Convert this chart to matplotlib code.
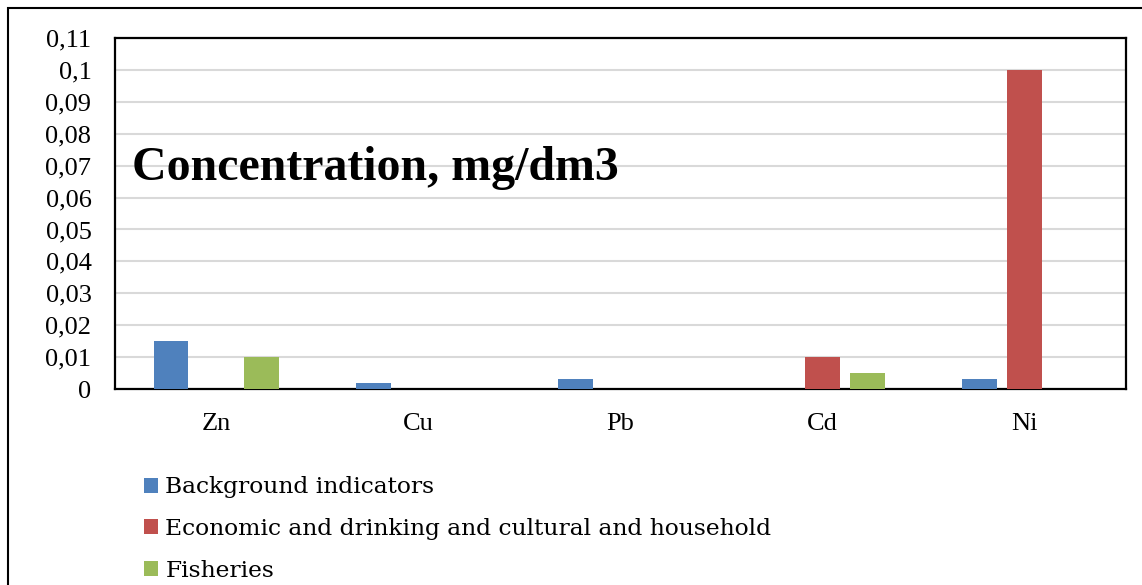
import numpy as np
import matplotlib
matplotlib.use("Agg")
import matplotlib.pyplot as plt
from matplotlib.patches import Rectangle, Patch
from matplotlib.ticker import FuncFormatter

metals = ["Zn", "Cu", "Pb", "Cd", "Ni"]
background = [0.015, 0.002, 0.003, 0.0, 0.003]
economic = [0.0, 0.0, 0.0, 0.010, 0.100]
fisheries = [0.010, 0.0, 0.0, 0.005, 0.0]
series_names = ["Background indicators",
                "Economic and drinking and cultural and household",
                "Fisheries"]

BLUE = "#4F81BD"; RED = "#C0504D"; GREEN = "#9BBB59"

plt.rcParams.update({"font.family": "Liberation Serif", "font.size": 19})

fig = plt.figure(figsize=(11.42, 5.85), dpi=100)
ax = fig.add_axes([115 / 1142, 196 / 585, 1011 / 1142, 351 / 585])

x = np.arange(len(metals))
step, w = 0.223, 0.173
for i, (vals, col) in enumerate(zip([background, economic, fisheries], [BLUE, RED, GREEN])):
    ax.bar(x + (i - 1) * step, vals, width=w, color=col, zorder=3)

ax.set_xlim(-0.5, len(metals) - 0.5)
ax.set_ylim(0, 0.11)
ax.set_yticks(np.arange(0, 0.111, 0.01))
ax.yaxis.set_major_formatter(FuncFormatter(lambda v, p: ("%g" % round(v, 3)).replace(".", ",")))
ax.set_xticks(x)
ax.set_xticklabels(metals)
ax.tick_params(axis="both", length=0, labelsize=19)
ax.tick_params(axis="y", pad=17)
ax.tick_params(axis="x", pad=17)
ax.grid(axis="y", color="#D9D9D9", linewidth=1.5, zorder=0)
for s in ax.spines.values():
    s.set_linewidth(1.6)
    s.set_color("black")

ax.text(0.017, 0.595, "Concentration, mg/dm3", transform=ax.transAxes,
        fontsize=34.5, fontweight="bold", va="baseline", ha="left", zorder=5)

handles = [Patch(facecolor=c) for c in (BLUE, RED, GREEN)]
fig.legend(handles, series_names, loc="upper left", bbox_to_anchor=(135 / 1142, 1 - 467 / 585),
           frameon=False, prop={"family": "DejaVu Serif", "size": 16.8},
           handlelength=0.6, handleheight=0.6, handletextpad=0.3,
           labelspacing=0.84, borderaxespad=0)

fig.patches.append(Rectangle((8 / 1142, -0.1), 1.2, 1 - 8 / 585 + 0.1, transform=fig.transFigure,
                             fill=False, edgecolor="black", linewidth=1.5))

fig.savefig("out.png", dpi=100)
